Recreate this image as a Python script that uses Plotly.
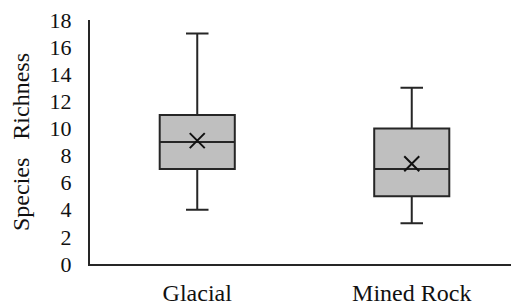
import plotly.graph_objects as go

categories = ["Glacial", "Mined Rock"]
mins = [4, 3]
q1s = [7, 5]
medians = [9, 7]
q3s = [11, 10]
maxs = [17, 13]
means = [9.1, 7.4]
y_ticks = [0, 2, 4, 6, 8, 10, 12, 14, 16, 18]

font_family = "Liberation Serif, Times New Roman, serif"

fig = go.Figure()
fig.add_trace(go.Box(
    x=categories, q1=q1s, median=medians, q3=q3s,
    lowerfence=mins, upperfence=maxs,
    fillcolor="#bfbfbf",
    line=dict(color="#262626", width=2),
    whiskerwidth=0.3,
    boxpoints=False,
    hoverinfo="skip",
    showlegend=False,
))
fig.add_trace(go.Scatter(
    x=categories, y=means, mode="markers",
    marker=dict(symbol="x-thin-open", size=15, line=dict(color="#111111", width=2), color="#111111"),
    hoverinfo="skip", showlegend=False,
))

fig.update_layout(
    width=519, height=306,
    margin=dict(l=82, r=8, t=12, b=50),
    paper_bgcolor="white", plot_bgcolor="white",
    font=dict(family=font_family, size=22, color="#111111"),
    boxgap=0.5,
    xaxis=dict(
        showline=True, linecolor="#262626", linewidth=2,
        showgrid=False, zeroline=False, ticks="", automargin=False,
        tickfont=dict(size=24), ticklabelstandoff=6, ticklabeloverflow="allow",
    ),
    yaxis=dict(
        range=[0, 18], tickvals=y_ticks, ticktext=[str(t) for t in y_ticks],
        showline=True, linecolor="#262626", linewidth=2,
        showgrid=False, zeroline=False, ticks="", automargin=False,
        tickfont=dict(size=22), ticklabelstandoff=12, ticklabeloverflow="allow",
        title=dict(text="Species   Richness", font=dict(size=24), standoff=14),
    ),
)

fig.write_html("out.html")
